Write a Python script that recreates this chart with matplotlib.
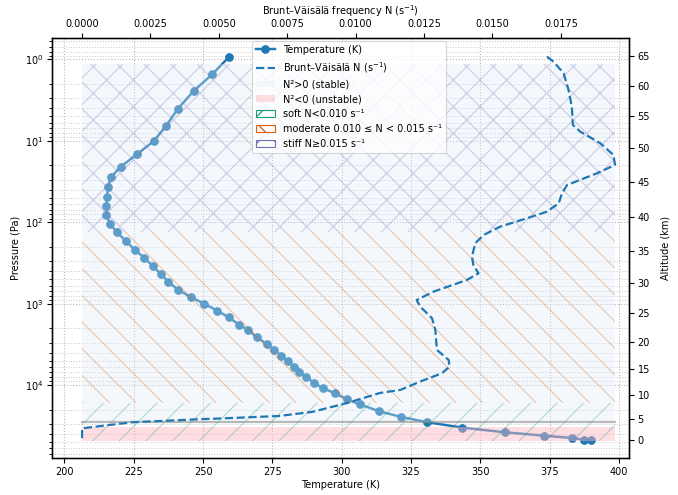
import numpy as np
import matplotlib
matplotlib.use("Agg")
import matplotlib.pyplot as plt
from matplotlib.lines import Line2D
from matplotlib.patches import Patch
from matplotlib.ticker import FixedLocator, FixedFormatter, NullLocator
from matplotlib.colors import to_rgba

# ---------------------------------------------------------------- data
# Temperature sounding on model levels (top -> surface)
pressure_pa = np.array([
    0.925, 1.52, 2.42, 4.02, 6.50, 10.1, 14.6, 20.7, 28.0, 36.8,
    48.5, 63.1, 81.3, 105, 133, 171, 217, 272, 344, 432,
    537, 673, 834, 1000, 1219, 1469, 1803, 2128, 2588, 3126,
    3707, 4355, 5105, 5943, 6839, 7889, 9354, 10940, 12620, 15030,
    17300, 20990, 24660, 28640, 33340, 38020, 41880, 44670, 46880, 47320])
temperature_k = np.array([
    259.4, 253.3, 246.7, 240.9, 236.7, 232.2, 226.1, 220.4, 216.7, 215.7,
    215.4, 215.1, 215.1, 216.4, 219.0, 222.2, 225.3, 228.7, 231.8, 234.7,
    237.4, 240.9, 245.6, 250.4, 255.1, 259.2, 262.9, 266.3, 269.5, 272.9,
    275.6, 278.2, 280.5, 282.8, 284.5, 287.1, 289.9, 293.2, 297.6, 301.9,
    306.6, 313.5, 321.5, 330.9, 343.5, 358.8, 373.1, 383.0, 387.3, 389.9])

# Brunt-Vaisala frequency profile (s^-1)
bv_pressure_pa = np.array([
    0.925, 1.064, 1.479, 2.371, 3.802, 6.383, 7.709, 10.69, 14.89, 19.77,
    25.0, 34.8, 44.1, 58.5, 74.1, 89.3, 113.2, 143.2, 181.1, 264.9,
    335, 424, 512, 713, 902, 1089, 1510, 2104, 3707, 4920,
    5943, 7161, 9078, 11480, 12500, 16600, 21380, 23990, 25590, 26300,
    28640, 33960, 47320])
bv_freq = np.array([
    0.01699, 0.01723, 0.01760, 0.01778, 0.01790, 0.01794, 0.01821, 0.01894, 0.01942, 0.01948,
    0.01882, 0.01773, 0.01754, 0.01742, 0.01699, 0.01626, 0.01528, 0.01468, 0.01437, 0.01425,
    0.01430, 0.01449, 0.01406, 0.01284, 0.01223, 0.01236, 0.01279, 0.01291, 0.01297, 0.01340,
    0.01343, 0.01315, 0.01235, 0.01163, 0.01089, 0.00969, 0.00841, 0.00719, 0.00523, 0.00427,
    0.00183, 0.0, 0.0])

# Static-stability layers (pressure bounds, Pa)
stable_layer = (1.14, 28800)
unstable_layer = (32700, 48600)
soft_layer = (16600, 48600)
moderate_layer = (131.6, 16600)
stiff_layer = (1.14, 131.6)
mixed_top_pa = 28800

# Altitude ticks (km)
altitude_ticks_km = np.arange(0, 70, 5)

# gas constant over gravity, km per K (hypsometric altitude)
r_over_g = 0.0236

# ---------------------------------------------------------------- altitude
p_sfc_first = pressure_pa[::-1]
t_sfc_first = temperature_k[::-1]
lnp = np.log(p_sfc_first)
dz = r_over_g * 0.5 * (t_sfc_first[1:] + t_sfc_first[:-1]) * (lnp[:-1] - lnp[1:])
z_km = np.concatenate([[0.0], np.cumsum(dz)])
xs = np.concatenate([[-lnp[0] - 20], -lnp, [-lnp[-1] + 20]])
zs = np.concatenate([[-r_over_g * t_sfc_first[0] * 20], z_km,
                     [z_km[-1] + r_over_g * t_sfc_first[-1] * 20]])


def z_to_p(z):
    return np.exp(-np.interp(np.asarray(z, dtype=float), zs, xs))


# ---------------------------------------------------------------- style
DPI = 80
plt.rcParams.update({
    "font.family": "DejaVu Sans",
    "font.size": 8.8,
    "axes.linewidth": 1.1,
    "xtick.major.size": 4.5, "ytick.major.size": 4.5,
    "xtick.major.width": 1.0, "ytick.major.width": 1.0,
    "ytick.minor.size": 2.6, "ytick.minor.width": 0.8,
    "xtick.major.pad": 3.2, "ytick.major.pad": 3.2,
    "hatch.linewidth": 1.1,
})

c_temp = "#1f77b4"
c_stable = "#deebf7"
c_unstable = "lightpink"
a_stable = 0.33
a_unstable = 0.45
c_soft = "#1b9e77"
c_mod = "#d95f02"
c_stiff = "#7570b3"

P_LIM = (78700, 0.545)

fig = plt.figure(figsize=(678 / DPI, 495 / DPI), dpi=DPI)
ax = fig.add_axes([52 / 678, 1 - 458 / 495, 577 / 678, 420 / 495])

ax.set_yscale("log")
ax.set_ylim(*P_LIM)
ax.set_xlim(195.5, 403.6)
ax.grid(True, which="major", ls=":", color="0.72", lw=1.0)
ax.grid(True, which="minor", axis="y", ls=":", color="0.8", lw=0.9)

# temperature profile
ax.plot(temperature_k, pressure_pa, "-o", color=c_temp, lw=2.2, ms=6.8)

ax.set_xlabel("Temperature (K)", labelpad=3)
ax.set_ylabel("Pressure (Pa)", labelpad=4)

# Brunt-Vaisala axis on top
axn = ax.twiny()
axn.set_xlim(-0.0011, 0.01999)
axn.set_xlabel("Brunt–Väisälä frequency N (s$^{-1}$)", labelpad=4)

n_max = bv_freq.max()

# stability shading
axn.fill_betweenx(stable_layer, 0, n_max, color=c_stable, alpha=a_stable, lw=0)
axn.fill_betweenx(unstable_layer, 0, n_max, color=c_unstable, alpha=a_unstable, lw=0)

# stiffness hatching
for bounds, col, hatch in [(soft_layer, c_soft, "/"),
                           (moderate_layer, c_mod, "\\"),
                           (stiff_layer, c_stiff, "x")]:
    axn.fill_betweenx(bounds, 0, n_max, facecolor="none",
                      edgecolor=to_rgba(col, 0.3), hatch=hatch, lw=0)

axn.plot([0, n_max], [mixed_top_pa, mixed_top_pa], color="0.55",
         lw=2.0, alpha=0.6)

axn.plot(bv_freq, bv_pressure_pa, ls="--", color=c_temp, lw=2.0)

# altitude axis on the right, ticks placed at the matching pressures
axz = ax.twinx()
axz.set_yscale("log")
axz.set_ylim(*P_LIM)
axz.yaxis.set_major_locator(FixedLocator(z_to_p(altitude_ticks_km)))
axz.yaxis.set_major_formatter(FixedFormatter([f"{z:d}" for z in altitude_ticks_km]))
axz.yaxis.set_minor_locator(NullLocator())
axz.set_ylabel("Altitude (km)", labelpad=9)

handles = [
    Line2D([], [], color=c_temp, marker="o", lw=2.2, ms=6.8, label="Temperature (K)"),
    Line2D([], [], color=c_temp, ls="--", lw=2.0, label="Brunt–Väisälä N (s$^{-1}$)"),
    Patch(facecolor=c_stable, alpha=a_stable, label="N²>0 (stable)"),
    Patch(facecolor=c_unstable, alpha=a_unstable, label="N²<0 (unstable)"),
    Patch(facecolor="none", edgecolor=c_soft, hatch="/", label="soft N<0.010 s⁻¹"),
    Patch(facecolor="none", edgecolor=c_mod, hatch="\\",
          label="moderate 0.010 ≤ N < 0.015 s⁻¹"),
    Patch(facecolor="none", edgecolor=c_stiff, hatch="x", label="stiff N≥0.015 s⁻¹"),
]
axz.legend(handles=handles, loc="upper left", bbox_to_anchor=(0.341, 1.0),
           frameon=True, fancybox=True, framealpha=0.8, edgecolor="0.8",
           borderaxespad=0.3)

fig.savefig("out.png", dpi=DPI)
